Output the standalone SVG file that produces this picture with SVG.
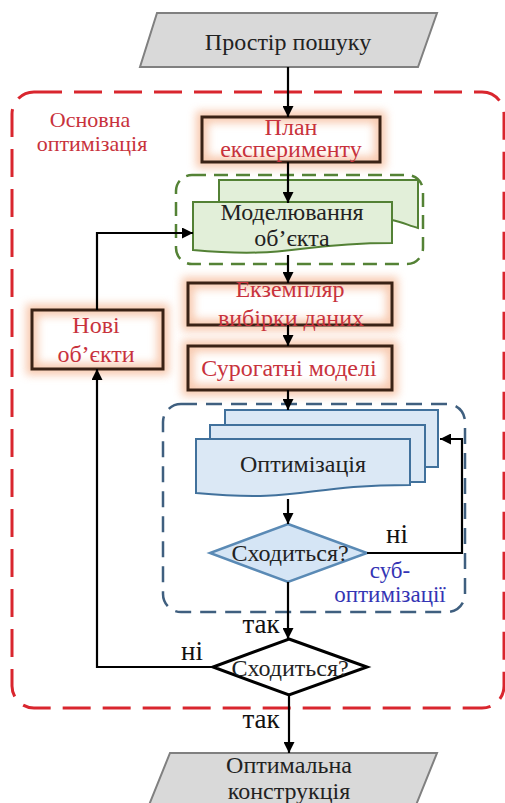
<svg xmlns="http://www.w3.org/2000/svg" width="505" height="803" viewBox="0 0 505 803">
<style>
  text { font-family: "Liberation Serif", "Times New Roman", serif; font-size: 24px; text-anchor: middle; }
  .blk { fill: #222; }
  .red { fill: #c8323c; }
  .lbl { font-size: 22px; }
  .blu { fill: #3434b4; font-size: 23px; }
  .yn { font-size: 27px; fill: #111; }
  .io { fill: #d9d9d9; stroke: #808080; stroke-width: 2; }
  .glow { fill: none; stroke: #f5b48e; stroke-width: 12; opacity: 0.7; }
  .box { fill: none; stroke: #3a2215; stroke-width: 3; }
  .gdoc { fill: #e2efd9; stroke: #538135; stroke-width: 2; }
  .bdoc { fill: #dbe8f5; stroke: #41719c; stroke-width: 2; }
  .conn { fill: none; stroke: #000; stroke-width: 2.2; }
</style>
<defs>
  <filter id="blur" x="-30%" y="-60%" width="160%" height="220%">
    <feGaussianBlur stdDeviation="4"/>
  </filter>
  <marker id="arr" viewBox="0 0 10 10" refX="10" refY="5" markerWidth="5" markerHeight="5" markerUnits="strokeWidth" orient="auto">
    <path d="M0,0 L10,5 L0,10 Z" fill="#000"/>
  </marker>
</defs>
<rect width="505" height="803" fill="#fff"/>

<g id="main-opt">
  <rect x="12" y="92" width="492" height="616" rx="22" fill="none" stroke="#d9262e" stroke-width="3" stroke-dasharray="28 12"/>
  <text class="red lbl" x="90" y="127">Основна</text>
  <text class="red lbl" x="92" y="151">оптимізація</text>
</g>

<g id="search-space">
  <polygon class="io" points="157,13 437,13 418,67 140,67"/>
  <text class="blk" x="288" y="50">Простір пошуку</text>
</g>

<g id="plan">
  <rect class="glow" x="202" y="117" width="178" height="45" filter="url(#blur)"/>
  <rect class="box" x="202" y="117" width="178" height="45"/>
  <text class="red" x="291" y="135">План</text>
  <text class="red" x="291" y="157">експерименту</text>
</g>

<g id="modeling">
  <rect x="176" y="175" width="247" height="89" rx="16" fill="none" stroke="#548235" stroke-width="2.5" stroke-dasharray="14 8"/>
  <path class="gdoc" d="M219,202 V180 H418 V228 C410,226 402,222 392,220 V202 Z"/>
  <path class="gdoc" d="M193,202 H392 V243 C292,243 292,259 193,250 Z"/>
  <text class="blk" x="292" y="220">Моделювання</text>
  <text class="blk" x="292" y="246">об’єкта</text>
</g>

<g id="sample">
  <rect class="glow" x="188" y="283" width="204" height="42" filter="url(#blur)"/>
  <rect class="box" x="188" y="283" width="204" height="42"/>
  <text class="red" x="290" y="297">Екземпляр</text>
  <text class="red" x="291" y="326">вибірки даних</text>
</g>

<g id="surrogate">
  <rect class="glow" x="188" y="346" width="204" height="44" filter="url(#blur)"/>
  <rect class="box" x="188" y="346" width="204" height="44"/>
  <text class="red" x="289" y="376">Сурогатні моделі</text>
</g>

<g id="new-objects">
  <rect class="glow" x="32" y="310" width="131" height="59" filter="url(#blur)"/>
  <rect class="box" x="32" y="310" width="131" height="59"/>
  <text class="red" x="96" y="333">Нові</text>
  <text class="red" x="96" y="362">об’єкти</text>
</g>

<g id="sub-opt">
  <rect x="163" y="404" width="302" height="208" rx="18" fill="none" stroke="#3f5f7f" stroke-width="2.5" stroke-dasharray="16 9"/>
  <text class="blu" x="390" y="578">суб-</text>
  <text class="blu" x="390" y="602">оптимізації</text>
</g>

<g id="optimization">
  <path class="bdoc" d="M225,425 V410 H438 V467 H425 V425 Z"/>
  <path class="bdoc" d="M210,439 V425 H425 V482 H410 V439 Z"/>
  <path class="bdoc" d="M196,439 H410 V485 C303,485 303,503 196,493 Z"/>
  <text class="blk" x="303" y="472">Оптимізація</text>
</g>

<g id="converge-sub">
  <polygon points="288,524 367,553 288,582 210,553" fill="#d5e5f5" stroke="#5a8ab5" stroke-width="2.5"/>
  <text class="blk" x="290" y="561">Сходиться?</text>
</g>

<g id="converge-main">
  <polygon points="289,639 367,667 289,695 213,667" fill="#fff" stroke="#000" stroke-width="3"/>
  <text class="blk" x="290" y="676">Сходиться?</text>
</g>

<g id="optimal">
  <polygon class="io" points="170,753 437,753 412,815 145,815"/>
  <text class="blk" x="289" y="773">Оптимальна</text>
  <text class="blk" x="289" y="799">конструкція</text>
</g>

<g id="connectors">
  <path class="conn" d="M288,67 V117" marker-end="url(#arr)"/>
  <path class="conn" d="M288,162 V203" marker-end="url(#arr)"/>
  <path class="conn" d="M288,255 V283" marker-end="url(#arr)"/>
  <path class="conn" d="M288,325 V346" marker-end="url(#arr)"/>
  <path class="conn" d="M288,390 V410" marker-end="url(#arr)"/>
  <path class="conn" d="M288,499 V524" marker-end="url(#arr)"/>
  <path class="conn" d="M367,553 H462 V439 H440" marker-end="url(#arr)"/>
  <path class="conn" d="M288,582 V639" marker-end="url(#arr)"/>
  <path class="conn" d="M213,667 H97 V369" marker-end="url(#arr)"/>
  <path class="conn" d="M97,310 V233 H193" marker-end="url(#arr)"/>
  <path class="conn" d="M289,695 V753" marker-end="url(#arr)"/>
  <text class="yn" x="397" y="543">ні</text>
  <text class="yn" x="261" y="633">так</text>
  <text class="yn" x="192" y="660">ні</text>
  <text class="yn" x="261" y="728">так</text>
</g>
</svg>
